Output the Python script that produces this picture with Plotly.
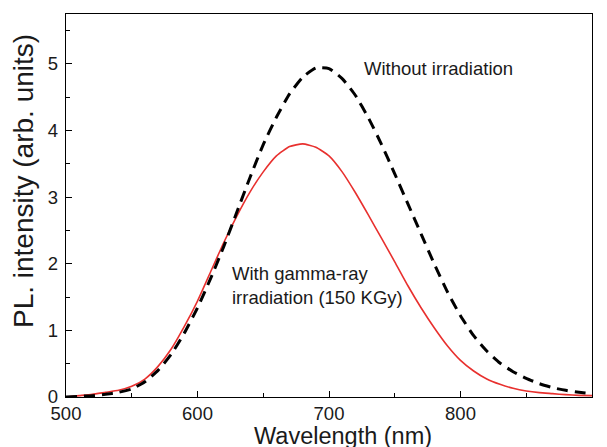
import plotly.graph_objects as go

wavelength = [500, 510, 520, 530, 540, 550, 560, 570, 580, 590, 600, 610, 620, 630, 640,
              650, 660, 670, 680, 690, 700, 710, 720, 730, 740, 750, 760, 770, 780, 790,
              800, 810, 820, 830, 840, 850, 860, 870, 880, 890, 900]

without_irr = [0.0, 0.01, 0.02, 0.04, 0.07, 0.12, 0.23, 0.40, 0.64, 0.96, 1.34, 1.78, 2.26,
               2.78, 3.30, 3.79, 4.20, 4.55, 4.80, 4.94, 4.93, 4.78, 4.53, 4.19, 3.79, 3.35,
               2.90, 2.45, 2.00, 1.58, 1.22, 0.92, 0.69, 0.51, 0.38, 0.28, 0.20, 0.14, 0.10,
               0.07, 0.05]

with_gamma = [0.0, 0.02, 0.04, 0.07, 0.10, 0.16, 0.27, 0.46, 0.72, 1.06, 1.44, 1.88, 2.32,
              2.72, 3.08, 3.38, 3.62, 3.76, 3.80, 3.75, 3.62, 3.38, 3.07, 2.73, 2.38, 2.03,
              1.67, 1.34, 1.04, 0.77, 0.55, 0.39, 0.27, 0.19, 0.13, 0.09, 0.065, 0.05, 0.035,
              0.025, 0.02]

x_ticks = [500, 600, 700, 800, 900]
y_ticks = [0, 1, 2, 3, 4, 5]

font_family = "Liberation Sans, Arial, sans-serif"
text_color = "#1a1a1a"

fig = go.Figure()
fig.add_trace(go.Scatter(
    x=wavelength, y=with_gamma, mode="lines",
    line=dict(color="#e8302e", width=1.6, shape="spline", smoothing=0.5),
    name="With gamma-ray irradiation (150 KGy)", showlegend=False))
fig.add_trace(go.Scatter(
    x=wavelength, y=without_irr, mode="lines",
    line=dict(color="black", width=3, dash="11px,7px", shape="spline", smoothing=0.5),
    name="Without irradiation", showlegend=False))

fig.add_annotation(x=725, y=4.93, xref="x", yref="y", xanchor="left", yanchor="middle",
                   text="Without irradiation", showarrow=False,
                   font=dict(size=18.5, color=text_color, family=font_family))
fig.add_annotation(x=625, y=1.68, xref="x", yref="y", xanchor="left", yanchor="middle",
                   text="With gamma-ray<br>irradiation (150 KGy)", showarrow=False, align="left",
                   font=dict(size=18.5, color=text_color, family=font_family))

# axis titles
fig.add_annotation(x=0.5266, y=-0.1018, xref="paper", yref="paper", xanchor="center", yanchor="middle",
                   text="Wavelength (nm)", showarrow=False,
                   font=dict(size=23.5, color=text_color, family=font_family))
fig.add_annotation(x=-0.0798, y=0.564, xref="paper", yref="paper", xanchor="center", yanchor="middle",
                   text="PL. intensity (arb. units)", showarrow=False, textangle=-90,
                   font=dict(size=28, color=text_color, family=font_family))

axis_common = dict(showline=True, linecolor="black", linewidth=1.3, mirror=True,
                   ticks="inside", ticklen=6, tickwidth=1.2, tickcolor="black",
                   showgrid=False, zeroline=False, automargin=False,
                   tickfont=dict(size=18.5, color=text_color, family=font_family))

fig.update_xaxes(range=[500, 900], tickvals=x_ticks,
                 minor=dict(ticks="inside", ticklen=4, tickwidth=1.1, tickcolor="black", dtick=50, tick0=500),
                 **axis_common)
fig.update_yaxes(range=[0, 5.75], tickvals=y_ticks, ticklabelstandoff=3,
                 minor=dict(ticks="inside", ticklen=4, tickwidth=1.1, tickcolor="black", dtick=0.5, tick0=0),
                 **axis_common)

# the page body adds an 8 px offset, so the figure is sized to fit the 607x447 window
fig.update_layout(width=599, height=439, margin=dict(l=58, r=15, t=6, b=50),
                  paper_bgcolor="white", plot_bgcolor="white",
                  font=dict(family=font_family))

fig.write_html("out.html")
